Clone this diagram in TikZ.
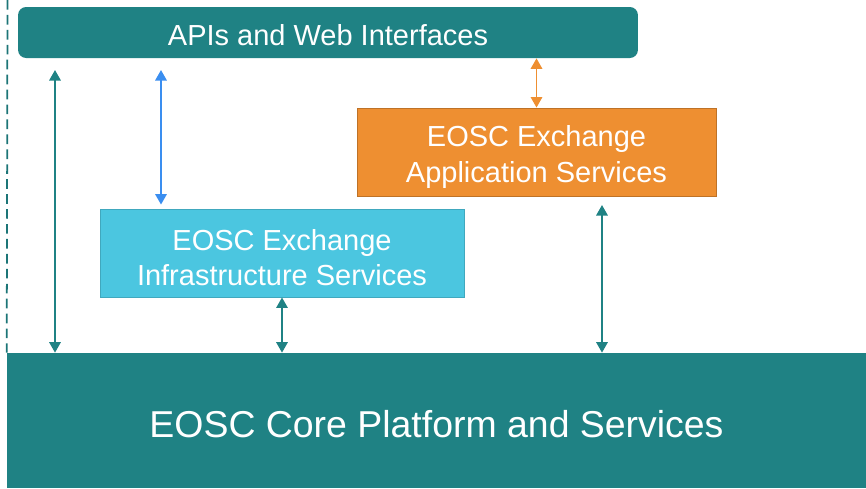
\documentclass[tikz,border=0pt]{standalone}
\usepackage{fontspec}
\setmainfont{Liberation Sans}
\usetikzlibrary{arrows.meta,positioning}
\definecolor{eoscteal}{RGB}{31, 130, 132}
\definecolor{eoscorange}{RGB}{238, 143, 49}
\definecolor{eosccyan}{RGB}{75, 198, 224}
\definecolor{eoscblue}{RGB}{58, 142, 240}
\newcommand\pushdown[1]{\rule{0pt}{#1}}

\tikzset{
  layer/.style={text=white, inner sep=0pt, align=center, font=\fontsize{16.5}{20}\selectfont},
  link/.style={line width=1.1pt, {Triangle[width=6.5pt,length=6pt]}-{Triangle[width=6.5pt,length=6pt]}}
}

\begin{document}
\begin{tikzpicture}[x=0.02cm, y=-0.02cm]
\useasboundingbox (0,0) rectangle (866,488);

% Layers
\node[layer, fill=eoscteal, rounded corners=0.16cm, minimum width=12.4cm, minimum height=1.02cm]
  (api) at (328,32.5) {\pushdown{15.5pt}APIs and Web Interfaces};
\node[layer, fill=eoscorange, draw=eoscorange!80!black, line width=0.5pt, minimum width=7.18cm, minimum height=1.76cm]
  (app) at (536.5,152) {\pushdown{17.7pt}EOSC Exchange\\Application Services};
\node[layer, fill=eosccyan, draw=eosccyan!85!black, line width=0.5pt, minimum width=7.28cm, minimum height=1.76cm]
  (infra) at (282,253) {\pushdown{17.7pt}EOSC Exchange\\Infrastructure Services};
\node[layer, fill=eoscteal, minimum width=17.18cm, minimum height=2.7cm, font=\fontsize{21.3}{25}\selectfont]
  (core) at (436.5,420.5) {\pushdown{19pt}EOSC Core Platform and Services};

% Boundary
\draw[eoscteal!90!black, line width=1pt, dash pattern=on 5.5pt off 3pt] (7.5,0) -- (core.north west);

% Links
\coordinate (l1) at (55,70);
\coordinate (l2) at (161,70);
\coordinate (l3) at (602,205);
\draw[link, eoscteal] (l1) -- (l1 |- core.north);
\draw[link, eoscblue] (l2) -- ([yshift=0.08cm]l2 |- infra.north);
\draw[link, eoscorange] (api.south -| app.north) -- (app.north);
\draw[link, eoscteal] (infra.south) -- (core.north -| infra.south);
\draw[link, eoscteal] (l3) -- (l3 |- core.north);
\end{tikzpicture}
\end{document}
